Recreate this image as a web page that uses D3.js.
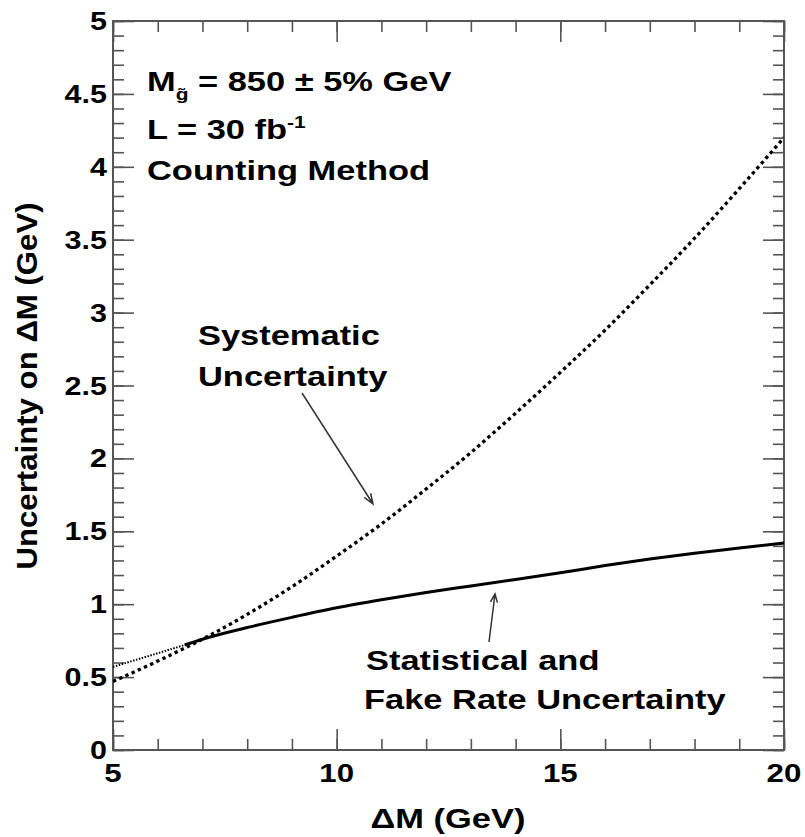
<!DOCTYPE html>
<html>
<head>
<meta charset="utf-8">
<script src="https://cdn.jsdelivr.net/npm/d3@7"></script>
<style>
body { margin: 0; background: #fff; }
text { font-family: "Liberation Sans", Arial, Helvetica, sans-serif; font-weight: bold; fill: #000; }
</style>
</head>
<body>
<script>
// values
const dmSys = [5, 6, 7, 8, 9, 10, 11, 12, 13, 14, 15, 16, 17, 18, 19, 20]
const sysUnc = [0.47, 0.61, 0.76, 0.93, 1.12, 1.33, 1.55, 1.79, 2.04, 2.31, 2.59, 2.88, 3.19, 3.51, 3.85, 4.20]

const dmStat = [6.6, 7, 8, 9, 10, 11, 12, 13, 14, 15, 16, 17, 18, 19, 20]
const statUnc = [0.72, 0.76, 0.84, 0.91, 0.975, 1.03, 1.08, 1.125, 1.17, 1.215, 1.265, 1.31, 1.35, 1.385, 1.42]

// dotted continuation of the statistical curve below 6.6 GeV
const dmStatExt = [5, 5.8, 6.6]
const statExt = [0.57, 0.645, 0.72]

const xMajor = [5, 10, 15, 20]
const xTickLabels = ['5', '10', '15', '20']
const xMinor = d3.range(5, 21)
const yMajor = d3.range(0, 11).map(i => i / 2)
const yTickLabels = ['0', '0.5', '1', '1.5', '2', '2.5', '3', '3.5', '4', '4.5', '5']
const yMinor = d3.range(0, 51).map(i => i / 10)

const width = 805, height = 837
const frameL = 113, frameR = 784, frameT = 21, frameB = 750

const x = d3.scaleLinear().domain([5, 20]).range([frameL, frameR])
const y = d3.scaleLinear().domain([0, 5]).range([frameB, frameT])

const svg = d3.select('body').append('svg')
  .attr('width', width)
  .attr('height', height)

svg.append('clipPath').attr('id', 'frame-clip')
  .append('rect')
  .attr('x', frameL).attr('y', frameT)
  .attr('width', frameR - frameL).attr('height', frameB - frameT)

// ticks on all four sides, pointing inwards
function ticks(axis, vals, size, tx, ty) {
  svg.append('g')
    .attr('transform', `translate(${tx},${ty})`)
    .call(axis.tickValues(vals).tickSize(size).tickFormat(''))
    .call(g => g.select('.domain').remove())
    .selectAll('line')
    .attr('stroke', '#555')
    .attr('stroke-width', 1.6)
}

ticks(d3.axisRight(y), yMinor, 11, frameL, 0)
ticks(d3.axisRight(y), yMajor, 21, frameL, 0)
ticks(d3.axisLeft(y), yMinor, 11, frameR, 0)
ticks(d3.axisLeft(y), yMajor, 21, frameR, 0)
ticks(d3.axisTop(x), xMinor, 11, 0, frameB)
ticks(d3.axisTop(x), xMajor, 21, 0, frameB)
ticks(d3.axisBottom(x), xMinor, 11, 0, frameT)
ticks(d3.axisBottom(x), xMajor, 21, 0, frameT)

svg.append('rect')
  .attr('x', frameL).attr('y', frameT)
  .attr('width', frameR - frameL).attr('height', frameB - frameT)
  .attr('fill', 'none')
  .attr('stroke', '#555')
  .attr('stroke-width', 2)

// stretched helvetica-like text
function label(px, py, s, size, sx, anchor) {
  return svg.append('text')
    .attr('transform', `translate(${px},${py}) scale(${sx},1)`)
    .attr('text-anchor', anchor || 'start')
    .attr('font-size', size)
    .text(s)
}

yMajor.forEach((v, i) => label(107, y(v) + 9, yTickLabels[i], 25, 1.22, 'end'))
xMajor.forEach((v, i) => label(x(v), 782, xTickLabels[i], 25, 1.25, 'middle'))

label(448, 828, 'ΔM (GeV)', 28, 1.23, 'middle')

svg.append('text')
  .attr('transform', `translate(37,386) rotate(-90) scale(1.04,1)`)
  .attr('text-anchor', 'middle')
  .attr('font-size', 30)
  .text('Uncertainty on ΔM (GeV)')

// curves
const line = d3.line()
  .x(d => x(d[0]))
  .y(d => y(d[1]))
  .curve(d3.curveMonotoneX)

const plot = svg.append('g').attr('clip-path', 'url(#frame-clip)')

plot.append('path')
  .datum(dmStatExt.map((d, i) => [d, statExt[i]]))
  .attr('d', line)
  .attr('fill', 'none')
  .attr('stroke', '#000')
  .attr('stroke-width', 2)
  .attr('stroke-dasharray', '1.5 1.5')

plot.append('path')
  .datum(dmStat.map((d, i) => [d, statUnc[i]]))
  .attr('d', line)
  .attr('fill', 'none')
  .attr('stroke', '#000')
  .attr('stroke-width', 3)

plot.append('path')
  .datum(dmSys.map((d, i) => [d, sysUnc[i]]))
  .attr('d', line)
  .attr('fill', 'none')
  .attr('stroke', '#000')
  .attr('stroke-width', 3.3)
  .attr('stroke-dasharray', '3.4 3.4')

// annotations
const t1 = svg.append('text')
  .attr('transform', `translate(147,91) scale(1.23,1)`)
  .attr('font-size', 28)
t1.append('tspan').text('M')
t1.append('tspan').attr('font-size', 17).attr('dy', 9).text('g\u0303')
t1.append('tspan').attr('dy', -9).text(' = 850 ± 5% GeV')

const t2 = svg.append('text')
  .attr('transform', `translate(147,139) scale(1.23,1)`)
  .attr('font-size', 28)
t2.append('tspan').text('L = 30 fb')
t2.append('tspan').attr('font-size', 17).attr('dy', -11).text('-1')

label(147, 180, 'Counting Method', 28, 1.23)

label(198, 345, 'Systematic', 28, 1.23)
label(198, 386, 'Uncertainty', 28, 1.23)

label(366, 670, 'Statistical and', 28, 1.23)
label(364, 709, 'Fake Rate Uncertainty', 28, 1.23)

function arrow(x1, y1, x2, y2, len, ang) {
  const a = Math.atan2(y2 - y1, x2 - x1)
  const p1 = [x2 - len * Math.cos(a - ang), y2 - len * Math.sin(a - ang)]
  const p2 = [x2 - len * Math.cos(a + ang), y2 - len * Math.sin(a + ang)]
  svg.append('path')
    .attr('d', `M${x1},${y1}L${x2},${y2}M${p1}L${x2},${y2}L${p2}`)
    .attr('fill', 'none')
    .attr('stroke', '#333')
    .attr('stroke-width', 1.5)
}

arrow(302, 393, 373, 504, 11, 0.35)
arrow(489, 642, 495, 594, 9, 0.4)
</script>
</body>
</html>
